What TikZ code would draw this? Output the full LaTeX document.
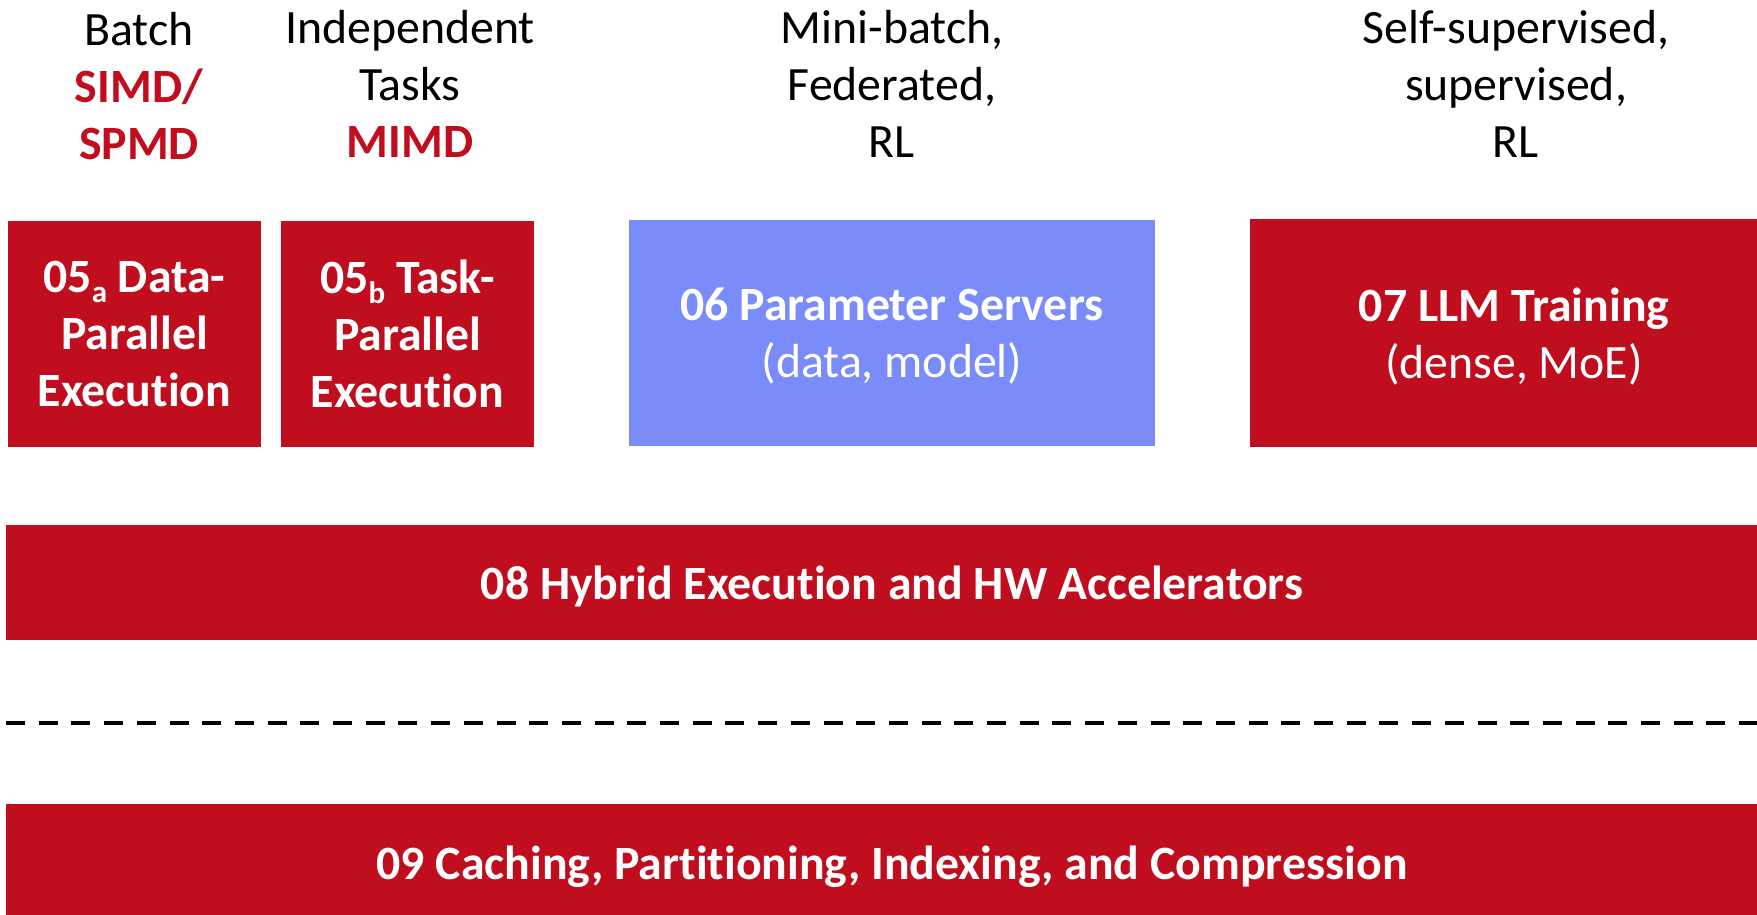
\documentclass[tikz,border=0pt]{standalone}
\usepackage{fontspec}
\setmainfont{Carlito}[Ligatures=CommonOff]
\usepackage{xcolor}
\usetikzlibrary{positioning}
\definecolor{redc}{HTML}{C10E1F}
\definecolor{bluec}{HTML}{7A8BFA}
\newcommand{\bigf}{\fontsize{47.8}{57}\selectfont}
\newcommand{\subl}[1]{\raisebox{-0.2em}{\fontsize{31}{31}\selectfont #1}}
\tikzset{
  lbl/.style={font=\bigf,align=center,anchor=base,inner sep=0pt},
  box/.style={fill=redc,text=white,font=\bigf\bfseries,align=center,inner sep=0pt,text depth=0pt},
  psbox/.style={box,fill=bluec},
  sep/.style={line width=4.5pt,black,dash pattern=on 19pt off 13.7pt}
}

\begin{document}
\begin{tikzpicture}[x=1pt,y=-1pt]
\path[use as bounding box,clip] (0,0) rectangle (1757,914);
% labels above the boxes
\node[lbl] (lbat) at (139,159) {Batch\\\textcolor{redc}{\textbf{SIMD/}}\\\textcolor{redc}{\textbf{SPMD}}};
\node[lbl] (lind) at (410,157) {Independent\\Tasks\\\textcolor{redc}{\textbf{MIMD}}};
\node[lbl] (lmini) at (892,157) {Mini-batch,\\Federated,\\RL};
\node[lbl] (lself) at (1516,157) {Self-supervised,\\supervised,\\RL};
% upper row
\node[box,minimum width=253pt,minimum height=226pt] (dpe) at (134.5,334) {05\subl{a} Data-\\Parallel\\Execution};
\node[box,minimum width=253pt,minimum height=226pt] (tpe) at (407.5,334) {05\subl{b} Task-\\Parallel\\Execution};
\node[psbox,minimum width=526pt,minimum height=226pt] (ps) at (892,333) {06 Parameter Servers\\\mdseries(data, model)};
\node[box,minimum width=528pt,minimum height=228pt] (llm) at (1514,333) {07 LLM Training\\\mdseries(dense, MoE)};
% full-width bars
\node[box,minimum width=1772pt,minimum height=115pt] (hyb) at (892,582.5) {08 Hybrid Execution and HW Accelerators};
\coordinate (sepl) at (6,723);
\coordinate (sepr) at (1790,723);
\draw[sep] (sepl) -- (sepr);
\node[box,minimum width=1772pt,minimum height=118pt] (cache) at (892,863) {09 Caching, Partitioning, Indexing, and Compression};
\end{tikzpicture}
\end{document}
